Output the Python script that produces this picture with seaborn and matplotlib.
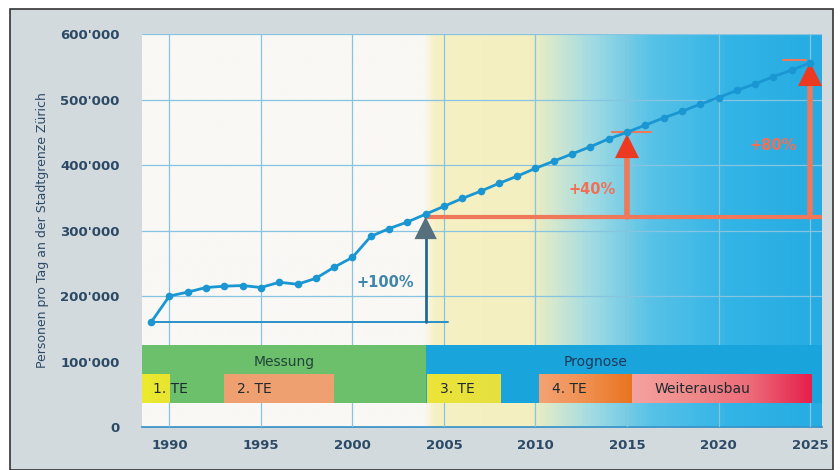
#!/usr/bin/env python3
"""Pendlerverkehr an der Stadtgrenze Zürich: Messung 1989-2004, Prognose bis 2025."""

import matplotlib.pyplot as plt
import numpy as np
import pandas as pd
import seaborn as sns
from matplotlib.colors import LinearSegmentedColormap
from matplotlib.patches import Rectangle

# --- data -------------------------------------------------------------
years = list(range(1989, 2026))
persons = [160000, 200000, 206000, 213000, 215000, 216000, 213000, 221000,
           218000, 227000, 244000, 259000, 291000, 303000, 313000, 325000,
           337000, 349000, 360000, 372000, 383000, 395000, 406000, 417000,
           428000, 440000, 450000, 461000, 472000, 482000, 493000, 503000,
           514000, 524000, 535000, 545000, 556000]

base_level = 160000          # Ausgangsniveau 1989
ref_year = 2004
ref_level = 320000           # Niveau 2004 (Referenz für Prognose)
target_years = [2015, 2025]
target_levels = [446000, 556000]
target_labels = ['+40%', '+80%']

phase_names = ['Messung', 'Prognose']
phase_start = [1988.5, 2004]
phase_end = [2004, 2025.65]

stage_names = ['1. TE', '2. TE', '3. TE', '4. TE', 'Weiterausbau']
stage_start = [1988.5, 1993, 2004.1, 2010.2, 2015.3]
stage_end = [1990, 1999, 2008.1, 2015.3, 2025.1]

yticks = [0, 100000, 200000, 300000, 400000, 500000, 600000]
ytick_labels = ["0", "100'000", "200'000", "300'000", "400'000", "500'000", "600'000"]
xticks = [1990, 1995, 2000, 2005, 2010, 2015, 2020, 2025]

df = pd.DataFrame({'Jahr': years, 'Personen': persons})

# --- style ------------------------------------------------------------
sns.set_style('white')
plt.rcParams['font.family'] = ['DejaVu Sans']
text_col = '#2c4a66'
blue = '#1a96d2'
grid_col = '#86c4e2'

fig = plt.figure(figsize=(8.4, 4.7), dpi=100)
fig.patch.set_facecolor('white')
fig.patches.append(Rectangle((10 / 840, 0), 823 / 840, 1 - 9 / 470,
                             transform=fig.transFigure, facecolor='#d3dadd',
                             edgecolor='#333333', lw=1.2, zorder=-5))

ax = fig.add_axes([0.169, 0.0915, 0.8095, 0.836])
ax.set_zorder(1)

# --- measured + forecast line -----------------------------------------
sns.lineplot(data=df, x='Jahr', y='Personen', ax=ax, color=blue, lw=2,
             marker='o', markersize=5.5, markeredgewidth=0, zorder=8)

ax.set_xlim(1988.5, 2025.65)
ax.set_ylim(0, 600000)

# background gradient: white -> pale yellow -> cyan -> blue
bg_cmap = LinearSegmentedColormap.from_list('bg', [
    (0.0, '#f9f8f6'), (0.415, '#f9f8f4'), (0.43, '#f6f1c4'), (0.57, '#f3efc0'),
    (0.66, '#a4dce2'), (0.75, '#58c2e8'), (0.87, '#32b4e6'), (1.0, '#26ace2')])
ax.imshow(np.linspace(0, 1, 400)[None, :], cmap=bg_cmap, aspect='auto',
          extent=(1988.5, 2025.65, 0, 600000), zorder=0)

ax.set_xticks(xticks)
ax.set_xticks(range(1989, 2026), minor=True)
ax.set_yticks(yticks)
ax.set_yticklabels(ytick_labels)
ax.grid(True, which='major', color=grid_col, lw=0.9, zorder=1)
ax.set_axisbelow(False)
for s in ['top', 'right', 'left']:
    ax.spines[s].set_visible(False)
ax.spines['bottom'].set_color('#2a8cc4')
ax.spines['bottom'].set_linewidth(1.2)
ax.tick_params(axis='x', which='major', direction='out', length=7, width=1.5,
               color='#2a6a90', labelsize=9.5, labelcolor=text_col, pad=2)
ax.tick_params(axis='x', which='minor', direction='out', length=3, width=0.8,
               color='#6aaad0')
ax.tick_params(axis='y', length=0, labelsize=9.5, labelcolor=text_col, pad=16)
for lab in ax.get_xticklabels() + ax.get_yticklabels():
    lab.set_fontweight('bold')
ax.set_ylabel('Personen pro Tag an der Stadtgrenze Zürich', color=text_col,
              fontsize=9, labelpad=8)
ax.set_xlabel('')

# --- phase bands ------------------------------------------------------
phase_cols = ['#6cc06c', '#1aa4dc']
for name, s, e, c in zip(phase_names, phase_start, phase_end, phase_cols):
    ax.add_patch(Rectangle((s, 37000), e - s, 88000, facecolor=c,
                           edgecolor='none', zorder=3))
    ax.text((s + e) / 2 if name == 'Messung' else 2013.3, 99000, name,
            ha='center', va='center', fontsize=10, color='#23443a'
            if name == 'Messung' else '#1c3a5a', zorder=6)

stage_cmaps = [
    LinearSegmentedColormap.from_list('s1', ['#ecea30', '#e8e430']),
    LinearSegmentedColormap.from_list('s2', ['#f0a070', '#eea070']),
    LinearSegmentedColormap.from_list('s3', ['#ece438', '#e6e040']),
    LinearSegmentedColormap.from_list('s4', ['#f4a274', '#f09050', '#e87420']),
    LinearSegmentedColormap.from_list('s5', ['#f4a2a0', '#f08a8a', '#ec6a78',
                                             '#e6204c']),
]
for name, s, e, cm in zip(stage_names, stage_start, stage_end, stage_cmaps):
    ax.imshow(np.linspace(0, 1, 100)[None, :], cmap=cm, aspect='auto',
              extent=(s, e, 37000, 80000), zorder=4)
    if name == '1. TE':
        tx = s + 0.6
    elif name == 'Weiterausbau':
        tx = s + 1.2
    else:
        tx = s + 0.7
    ax.text(tx, 58000, name, ha='left', va='center', fontsize=10,
            color='#1e2a30', zorder=6)

# +100% arrow (measurement period)
ax.plot([years[0], 2005.2], [base_level, base_level], color='#2a90c8', lw=1.4,
        zorder=5)
ax.plot([ref_year, ref_year], [base_level, 290000], color='#246a8c', lw=2,
        zorder=6)
ax.scatter([ref_year], [304000], marker='^', s=260, color='#56707e',
           edgecolor='none', zorder=7)
ax.text(2001.8, 221000, '+100%', ha='center', va='center', fontsize=10.5,
        fontweight='bold', color='#3f86aa', zorder=6)

# forecast arrows
orange = '#f0785a'
ax.plot([ref_year, 2025.65], [ref_level, ref_level], color=orange, lw=3,
        zorder=5)
dash_span = [(-0.8, 1.3), (-1.5, -0.2)]
for yr, lvl, (d0, d1) in zip(target_years, target_levels, dash_span):
    ax.plot([yr, yr], [ref_level, lvl - 30000], color=orange, lw=4, zorder=6)
    ax.scatter([yr], [lvl - 17000], marker='^', s=300, color='#ec3a22',
               edgecolor='none', zorder=7)
    ax.plot([yr + d0, yr + d1], [lvl + 5000, lvl + 5000], color=orange,
            lw=1.5, zorder=7)
ax.text(2013.1, 363000, target_labels[0], ha='center', va='center',
        fontsize=10.5, fontweight='bold', color='#f07056', zorder=6)
ax.text(2023.0, 430000, target_labels[1], ha='center', va='center',
        fontsize=10.5, fontweight='bold', color='#f07056', zorder=6)

plt.savefig('out.png', dpi=100)
